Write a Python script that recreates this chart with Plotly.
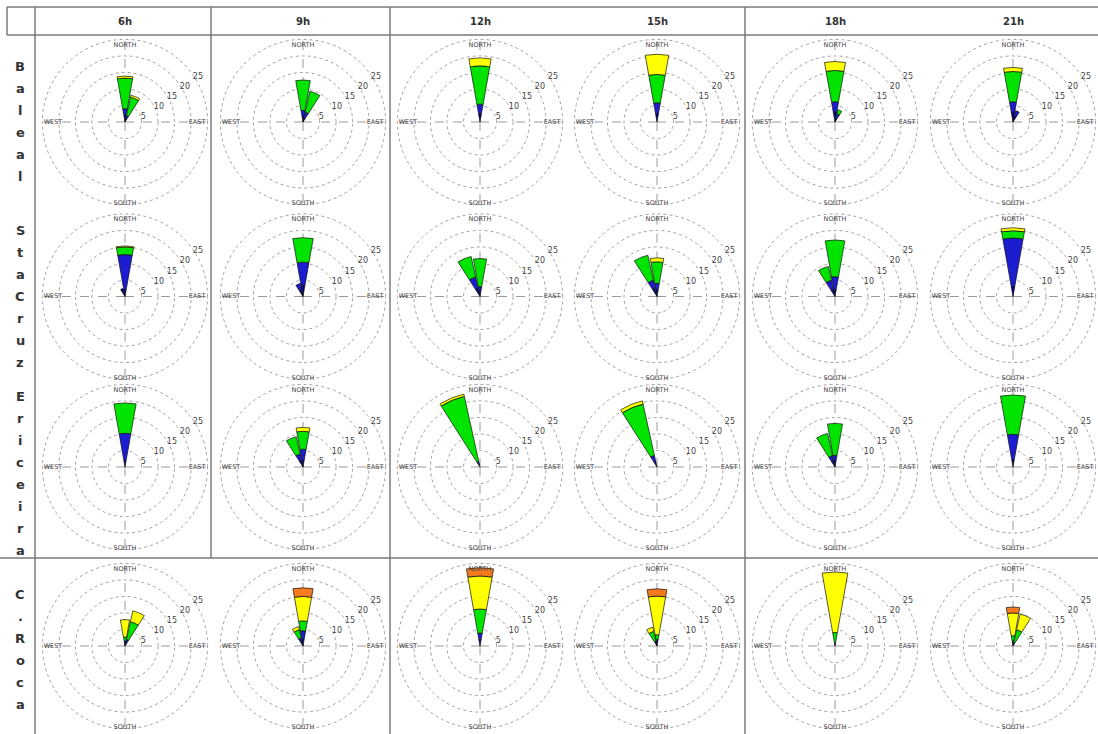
import plotly.graph_objects as go

W, H = 1098, 734

hours = ["6h", "9h", "12h", "15h", "18h", "21h"]
stations = ["Baleal", "StaCruz", "Ericeira", "C.Roca"]
compass_labels = ["NORTH", "EAST", "SOUTH", "WEST"]
compass_theta = [0, 90, 180, 270]
compass_r = [23.3, 21.8, 24.7, 21.8]
radial_ticks = [5, 10, 15, 20, 25]
bin_colors = ["#000080", "#1c1cd0", "#00e400", "#ffff00", "#f47a20"]
sector_angle = {"N": 0, "NNE": 22.5, "NE": 45, "NNW": 337.5, "NW": 315}

# frequency (%) per direction, stacked by wind-speed class (calm -> strong)
baleal_6h = {"N": [2.0, 2.0, 9.3, 0.6, 0], "NNE": [1.0, 1.0, 5.7, 0.6, 0]}
baleal_9h = {"N": [1.5, 2.0, 9.2, 0, 0], "NNE": [1.0, 2.0, 6.5, 0, 0]}
baleal_12h = {"N": [2.5, 2.9, 11.6, 2.4, 0]}
baleal_15h = {"N": [2.5, 3.3, 8.6, 6.1, 0]}
baleal_18h = {"N": [3.0, 3.1, 9.5, 2.7, 0], "NNE": [1.0, 1.5, 1.3, 0, 0]}
baleal_21h = {"N": [3.0, 3.1, 9.2, 1.2, 0], "NNE": [2.0, 1.5, 0, 0, 0]}

stacruz_6h = {"N": [2.0, 10.7, 2.3, 0.3, 0], "NNW": [2.5, 0, 0, 0, 0]}
stacruz_9h = {"N": [3.4, 7.0, 7.4, 0, 0], "NNW": [2.0, 2.0, 0, 0, 0]}
stacruz_12h = {"N": [1.5, 1.5, 8.5, 0, 0], "NNW": [2.5, 3.5, 6.4, 0, 0]}
stacruz_15h = {"N": [2.0, 2.0, 6.5, 1.2, 0], "NNW": [2.5, 2.5, 7.8, 0, 0]}
stacruz_18h = {"N": [2.0, 4.0, 11.1, 0, 0], "NNW": [2.0, 3.0, 4.3, 0, 0]}
stacruz_21h = {"N": [3.0, 14.7, 2.2, 0.9, 0]}

ericeira_6h = {"N": [2.0, 8.2, 9.2, 0, 0]}
ericeira_9h = {"N": [2.0, 3.4, 5.4, 1.2, 0], "NNW": [2.0, 2.0, 5.4, 0, 0]}
ericeira_12h = {"NNW": [1.0, 0.7, 20.2, 0.7, 0]}
ericeira_15h = {"NNW": [1.8, 1.8, 15.9, 1.0, 0]}
ericeira_18h = {"N": [2.0, 1.5, 9.7, 0, 0], "NNW": [2.0, 1.5, 6.9, 0, 0]}
ericeira_21h = {"N": [2.2, 7.7, 11.9, 0, 0]}

croca_6h = {"N": [1.0, 0.5, 1.2, 5.3, 0], "NNE": [1.0, 1.0, 5.5, 3.4, 0]}
croca_9h = {"N": [2.0, 2.6, 3.0, 7.4, 2.6], "NNW": [1.5, 1.0, 2.5, 1.0, 0]}
croca_12h = {"N": [2.0, 1.9, 7.3, 10.0, 2.5]}
croca_15h = {"N": [1.5, 0.5, 1.4, 11.7, 2.2], "NNW": [1.0, 0.5, 3.0, 1.3, 0]}
croca_18h = {"N": [0.5, 0.5, 3.1, 18.3, 0]}
croca_21h = {"N": [1.0, 0.5, 1.6, 6.9, 1.8], "NNE": [0.5, 0.5, 4.0, 4.9, 0]}

grid_rows = [
    [baleal_6h, baleal_9h, baleal_12h, baleal_15h, baleal_18h, baleal_21h],
    [stacruz_6h, stacruz_9h, stacruz_12h, stacruz_15h, stacruz_18h, stacruz_21h],
    [ericeira_6h, ericeira_9h, ericeira_12h, ericeira_15h, ericeira_18h, ericeira_21h],
    [croca_6h, croca_9h, croca_12h, croca_15h, croca_18h, croca_21h],
]

# layout geometry (pixels); radial range runs a little past the outer ring
col_cx = [125, 303, 480, 657, 835, 1013]
row_cy = [122, 296.5, 467, 646]
label_cy = [121.5, 296.5, 473, 649]
R_MAX = 25.6
R = 82.6 * R_MAX / 25
letter_step = 22
line_color = "#7a7a7a"


def px_x(x):
    return min(max(x / W, 0.0), 1.0)


def px_y(y):
    return min(max(1 - y / H, 0.0), 1.0)


fig = go.Figure()
layout_polars = {}
k = 0
for i, row in enumerate(grid_rows):
    for j, cell in enumerate(row):
        k += 1
        name = "polar" if k == 1 else f"polar{k}"
        cx, cy = col_cx[j], row_cy[i]
        for b, color in enumerate(bin_colors):
            dirs = [d for d in cell if cell[d][b] > 0]
            if not dirs:
                continue
            fig.add_trace(go.Barpolar(
                r=[cell[d][b] for d in dirs],
                theta=[sector_angle[d] for d in dirs],
                width=[20] * len(dirs),
                marker=dict(color=color, line=dict(color="#111111", width=0.7)),
                subplot=name, showlegend=False, hoverinfo="skip",
            ))
        fig.add_trace(go.Scatterpolar(
            r=compass_r, theta=compass_theta,
            mode="text", text=compass_labels, textposition="middle center",
            textfont=dict(size=6.5, color="#444444", family="DejaVu Sans"),
            cliponaxis=False, subplot=name, showlegend=False, hoverinfo="skip",
        ))
        layout_polars[name] = dict(
            domain=dict(x=[px_x(cx - R), px_x(cx + R)], y=[px_y(cy + R), px_y(cy - R)]),
            bgcolor="rgba(0,0,0,0)",
            barmode="stack",
            angularaxis=dict(
                rotation=90, direction="clockwise",
                tickvals=[0, 90, 180, 270], showticklabels=False, ticks="",
                showgrid=True, gridcolor="#9a9a9a", gridwidth=0.8, griddash="dash",
                showline=False,
            ),
            radialaxis=dict(
                range=[0, R_MAX], tickvals=radial_ticks, angle=38, tickangle=38,
                showline=False, ticks="", showgrid=True,
                gridcolor="#a0a0a0", gridwidth=0.8, griddash="dot",
                tickfont=dict(size=8, color="#444444", family="DejaVu Sans"),
            ),
        )

annotations = []
for j, h in enumerate(hours):
    annotations.append(dict(
        x=px_x(col_cx[j]), y=px_y(21), xref="paper", yref="paper",
        xanchor="center", yanchor="middle",
        text=f"<b>{h}</b>", showarrow=False,
        font=dict(size=10, color="#333333", family="DejaVu Sans"),
    ))
for i, st in enumerate(stations):
    n = len(st)
    for m, ch in enumerate(st):
        y = label_cy[i] + (m - (n - 1) / 2) * letter_step
        annotations.append(dict(
            x=px_x(20), y=px_y(y), xref="paper", yref="paper",
            xanchor="center", yanchor="middle", borderpad=0,
            text=f"<b>{ch}</b>", showarrow=False,
            font=dict(size=13, color="#333333", family="DejaVu Sans"),
        ))

segments = [
    (7, 7, W, 7), (7, 35, W, 35), (7, 7, 7, 35),
    (35, 7, 35, H), (211, 7, 211, 558), (390, 7, 390, H), (745, 7, 745, H),
    (0, 558, W, 558),
]
shapes = [
    dict(type="line", xref="paper", yref="paper",
         x0=px_x(x0), y0=px_y(y0), x1=px_x(x1), y1=px_y(y1),
         line=dict(color=line_color, width=1.5))
    for x0, y0, x1, y1 in segments
]

fig.update_layout(
    width=W, height=H, margin=dict(l=0, r=0, t=0, b=0),
    paper_bgcolor="white", plot_bgcolor="white",
    annotations=annotations, shapes=shapes, **layout_polars,
)
fig.write_html("out.html")
